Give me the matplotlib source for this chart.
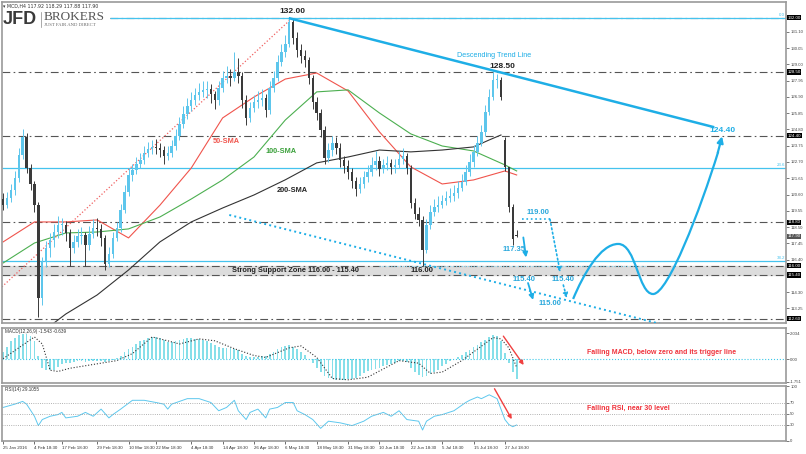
import numpy as np
import matplotlib.pyplot as plt
from matplotlib.path import Path
from matplotlib.patches import PathPatch
from matplotlib.lines import Line2D

plt.rcParams['font.family'] = ['Liberation Sans', 'DejaVu Sans']

# ---- price candles (H4 bars, index 0 = 25 Jan 2016) ----
opens = [120.30, 119.93, 120.38, 120.89, 121.67, 123.15, 124.31, 122.31, 121.28, 119.93,
         113.93, 116.25, 117.15, 117.67, 118.18, 118.64, 118.64, 118.12, 117.15, 117.54,
         117.93, 117.99, 117.35, 118.05, 118.44, 118.38, 117.80, 116.12, 116.76, 117.80,
         118.44, 119.60, 120.76, 121.86, 122.18, 122.57, 122.83, 123.28, 123.54, 123.67,
         123.60, 123.47, 123.09, 123.28, 123.73, 124.38, 125.15, 125.80, 126.31, 126.70,
         127.02, 127.22, 127.35, 127.41, 127.09, 126.70, 127.47, 128.12, 128.25, 128.12,
         128.51, 128.25, 126.70, 125.54, 126.18, 126.57, 126.70, 126.83, 126.05, 127.47,
         128.12, 129.15, 129.80, 130.31, 131.73, 130.70, 129.93, 129.54, 129.28, 128.12,
         126.57, 125.86, 124.76, 122.96, 123.47, 123.93, 123.60, 122.83, 122.44, 122.05,
         121.47, 120.96, 121.28, 121.73, 122.05, 122.51, 122.76, 122.25, 122.51, 122.64,
         122.38, 122.51, 122.89, 123.09, 122.31, 120.05, 119.35, 118.96, 117.02, 118.64,
         119.47, 119.80, 119.93, 120.18, 120.38, 120.51, 120.70, 121.02, 121.41, 122.05,
         122.70, 123.35, 123.93, 124.64, 125.93, 126.89, 127.99, 127.99, 124.10, 122.40,
         119.80, 117.92]
closes = [119.93, 120.38, 120.89, 121.67, 123.15, 124.31, 122.31, 121.28, 119.93, 113.93,
          116.25, 117.15, 117.67, 118.18, 118.64, 118.64, 118.12, 117.15, 117.54, 117.93,
          117.99, 117.35, 118.05, 118.44, 118.38, 117.80, 116.12, 116.76, 117.80, 118.44,
          119.60, 120.76, 121.86, 122.18, 122.57, 122.83, 123.28, 123.54, 123.67, 123.60,
          123.47, 123.09, 123.28, 123.73, 124.38, 125.15, 125.80, 126.31, 126.70, 127.02,
          127.22, 127.35, 127.41, 127.09, 126.70, 127.47, 128.12, 128.25, 128.12, 128.51,
          128.25, 126.70, 125.54, 126.18, 126.57, 126.70, 126.83, 126.05, 127.47, 128.12,
          129.15, 129.80, 130.31, 131.73, 130.70, 129.93, 129.54, 129.28, 128.12, 126.57,
          125.86, 124.76, 122.96, 123.47, 123.93, 123.60, 122.83, 122.44, 122.05, 121.47,
          120.96, 121.28, 121.73, 122.05, 122.51, 122.76, 122.25, 122.51, 122.64, 122.38,
          122.51, 122.89, 123.09, 122.31, 120.05, 119.35, 118.96, 117.02, 118.64, 119.47,
          119.80, 119.93, 120.18, 120.38, 120.51, 120.70, 121.02, 121.41, 122.05, 122.70,
          123.35, 123.93, 124.64, 125.93, 126.89, 127.99, 127.99, 126.90, 122.40, 119.80,
          117.70, 117.90]
highs = [120.70, 120.75, 121.30, 122.10, 123.60, 124.80, 124.60, 122.60, 121.50, 120.10,
         116.60, 117.60, 118.10, 118.70, 119.20, 119.10, 118.90, 118.40, 118.00, 118.40,
         118.50, 118.20, 118.60, 119.00, 119.10, 118.70, 118.00, 117.20, 118.20, 118.80,
         120.00, 121.20, 122.30, 122.60, 123.00, 123.30, 123.70, 124.00, 124.10, 124.20,
         123.90, 123.70, 123.70, 124.10, 124.80, 125.60, 126.30, 126.80, 127.20, 127.50,
         127.80, 127.90, 127.90, 127.70, 127.30, 127.90, 128.60, 128.90, 128.70, 129.80,
         129.40, 128.50, 127.00, 126.60, 127.00, 127.30, 127.40, 127.10, 127.90, 128.60,
         129.60, 130.30, 130.90, 132.00, 131.90, 131.10, 130.30, 129.90, 129.50, 128.30,
         126.90, 126.10, 125.00, 123.90, 124.40, 124.30, 123.90, 123.10, 122.80, 122.30,
         121.70, 121.70, 122.10, 122.50, 123.00, 123.40, 123.10, 122.90, 123.10, 122.90,
         122.90, 123.40, 123.60, 123.30, 122.50, 120.40, 119.80, 119.20, 119.00, 119.90,
         120.30, 120.50, 120.60, 120.80, 121.00, 121.20, 121.50, 121.90, 122.50, 123.20,
         123.80, 124.40, 125.10, 126.40, 127.40, 128.50, 128.40, 128.20, 124.30, 122.30,
         120.00, 118.29]
lows = [119.60, 119.70, 120.10, 120.60, 121.40, 122.90, 122.00, 120.90, 119.50, 112.70,
        113.50, 115.90, 116.60, 117.20, 117.80, 118.00, 117.60, 116.00, 116.80, 117.20,
        117.40, 116.00, 117.00, 117.80, 117.90, 117.30, 115.70, 115.90, 116.50, 117.60,
        118.20, 119.40, 120.50, 121.50, 121.90, 122.30, 122.60, 123.00, 123.20, 123.20,
        123.00, 122.60, 122.80, 123.00, 123.50, 124.10, 124.90, 125.50, 126.00, 126.40,
        126.70, 126.90, 126.80, 126.50, 126.10, 126.40, 127.20, 127.80, 127.60, 127.90,
        127.80, 126.20, 125.10, 125.30, 125.90, 126.20, 126.30, 125.60, 125.80, 127.20,
        127.90, 128.90, 129.50, 130.10, 130.30, 129.50, 129.10, 128.80, 127.70, 126.10,
        125.40, 124.30, 122.60, 122.70, 123.10, 123.20, 122.40, 122.00, 121.60, 121.00,
        120.50, 120.70, 121.00, 121.40, 121.80, 122.20, 121.80, 122.00, 122.20, 121.90,
        122.00, 122.30, 122.60, 121.90, 119.70, 119.00, 118.60, 116.00, 116.80, 118.40,
        119.20, 119.50, 119.70, 119.90, 120.10, 120.20, 120.40, 120.80, 121.20, 121.80,
        122.40, 123.10, 123.70, 124.40, 125.70, 126.70, 127.50, 126.70, 122.10, 119.50,
        117.35, 117.88]

# ---- moving averages (bar index, value) ----
sma_x = [0, 8, 16, 24, 32, 40, 48, 56, 64, 72, 80, 88, 96, 104, 112, 120, 128, 131]
sma50 = [117.54, 118.83, 118.83, 118.96, 117.80, 119.91, 122.31, 125.54, 126.89, 128.05,
         128.44, 127.28, 124.64, 122.38, 121.28, 121.54, 122.12, 121.86]
sma100 = [116.18, 117.47, 118.12, 118.18, 118.38, 119.15, 120.31, 121.54, 123.02, 125.41,
          127.22, 127.35, 125.86, 124.51, 123.73, 123.41, 122.51, 122.12]
sma200_x = [12, 16, 24, 32, 40, 48, 56, 64, 72, 80, 88, 96, 104, 112, 120, 124, 127]
sma200 = [112.12, 112.89, 114.12, 115.73, 117.54, 118.83, 119.73, 120.57, 121.55, 122.64,
          123.02, 123.47, 123.35, 123.47, 123.67, 124.12, 124.44]

# ---- MACD(12,26,9) ----
macd_hist = [0.6, 1.0, 1.4, 1.7, 1.9, 2.0, 2.0, 1.8, 1.4, 0.3,
             -0.7, -0.85, -0.85, -0.8, -0.6, -0.4, -0.3, -0.25, -0.2, -0.15,
             -0.15, -0.2, -0.15, -0.1, -0.1, -0.15, -0.2, -0.15, -0.05, 0.1,
             0.3, 0.55, 0.8, 1.0, 1.2, 1.4, 1.55, 1.7, 1.75, 1.75,
             1.65, 1.5, 1.35, 1.35, 1.45, 1.55, 1.6, 1.65, 1.65, 1.6,
             1.6, 1.55, 1.45, 1.25, 1.15, 1.0, 0.9, 0.85, 0.85, 0.8,
             0.7, 0.45, 0.25, 0.15, 0.15, 0.2, 0.25, 0.3, 0.45, 0.6,
             0.8, 0.95, 1.05, 1.1, 1.0, 0.8, 0.6, 0.35, 0.05, -0.3,
             -0.7, -1.0, -1.3, -1.45, -1.55, -1.6, -1.6, -1.6, -1.55, -1.5,
             -1.45, -1.3, -1.1, -0.95, -0.85, -0.75, -0.65, -0.55, -0.45, -0.35,
             -0.25, -0.15, -0.1, -0.2, -0.7, -1.0, -1.2, -1.4, -1.3, -1.15,
             -1.0, -0.8, -0.55, -0.35, -0.15, 0.0, 0.15, 0.35, 0.55, 0.75,
             0.95, 1.15, 1.35, 1.55, 1.75, 1.9, 1.85, 1.4, 0.5, -0.3,
             -1.0, -1.543]
sig_x = [0, 4, 8, 10, 12, 14, 17, 25, 29, 33, 38, 42, 45, 50, 54, 59, 64, 67, 73, 76,
         80, 84, 88, 93, 101, 106, 109, 112, 117, 121, 125, 127, 129, 131]
sig_v = [0.05, 0.9, 1.75, 1.2, -0.85, -0.95, -0.7, -0.3, -0.1, 0.45, 1.75, 1.45, 1.2, 1.6,
         1.45, 0.83, 0.3, 0.15, 0.9, 1.05, 0.15, -1.5, -1.6, -1.4, -0.1, -0.3, -1.1, -1.0,
         -0.1, 0.8, 1.7, 1.6, 0.9, -0.639]

# ---- RSI(14) ----
rsi_x = [0, 3, 5, 6, 8, 9, 10, 12, 14, 15, 16, 19, 21, 23, 25, 27, 28, 30, 33, 36,
         39, 41, 42, 43, 47, 50, 53, 55, 57, 59, 60, 62, 63, 65, 67, 68, 70, 72, 74, 75,
         77, 79, 81, 83, 86, 89, 92, 94, 97, 99, 101, 103, 106, 107, 108, 110, 112, 115, 118, 119,
         121, 122, 124, 126, 128, 129, 130, 131]
rsi_v = [61, 67, 72, 67, 45, 28, 39, 45, 48, 52, 42, 45, 52, 45, 58, 42, 48, 58, 74, 74,
         70, 67, 58, 67, 77, 77, 70, 55, 61, 74, 55, 39, 52, 58, 42, 58, 61, 70, 70, 55,
         48, 39, 23, 36, 33, 28, 36, 45, 52, 45, 55, 39, 36, 20, 36, 45, 48, 55, 70, 74,
         80, 77, 84, 77, 39, 30, 26, 29.1]

date_pos = [0, 8, 15, 24, 32, 39, 48, 56, 64, 72, 80, 88, 96, 104, 112, 120, 128]
date_lbl = ["25 Jan 2016", "4 Feb 18:30", "17 Feb 18:30", "29 Feb 18:30", "10 Mar 18:30",
            "22 Mar 18:30", "4 Apr 18:30", "14 Apr 18:30", "26 Apr 18:30", "6 May 18:30",
            "18 May 18:30", "31 May 18:30", "10 Jun 18:30", "22 Jun 18:30", "5 Jul 18:30",
            "15 Jul 18:30", "27 Jul 18:30"]

price_ticks = [113.25, 114.30, 116.40, 117.45, 118.50, 119.55, 120.60, 121.65, 122.70,
               123.75, 124.80, 125.85, 126.90, 127.95, 129.00, 130.05, 131.10]
key_levels = [132.00, 128.50, 124.40, 118.80, 116.00, 115.40, 112.60]
fib_levels = [132.00, 122.31, 116.31]
fib_names = ["0.0", "23.6", "38.2"]
last_price = 117.90

CYAN = '#1eaee6'
CUP = '#5dc6ec'
CDN = '#3a3a3a'
GRID = '#9a9a9a'
DASHDOT = (0, (7, 3, 1.5, 3))

W, H = 806, 454
fig = plt.figure(figsize=(8.06, 4.54), dpi=100)


def box(l, t, r, b):
    return [l / W, 1 - b / H, (r - l) / W, (b - t) / H]


ax = fig.add_axes(box(1.5, 2, 786, 323))
axm = fig.add_axes(box(1.5, 328, 786, 383), sharex=ax)
axr = fig.add_axes(box(1.5, 386, 786, 441), sharex=ax)

for a in (ax, axm, axr):
    for s in a.spines.values():
        s.set_color(GRID)
        s.set_linewidth(1.2)
    a.yaxis.tick_right()
    a.tick_params(axis='y', labelsize=3.1, colors='#444', length=2, width=0.5, pad=1)
    a.tick_params(axis='x', length=0)
    a.set_xlim(-0.4, 199.7)

# ---- main panel ----
x = np.arange(len(closes))
o = np.array(opens)
c = np.array(closes)
col = np.where(c >= o, CUP, CDN)
ax.vlines(x, lows, highs, colors=col, lw=0.7, zorder=3)
ax.bar(x, np.maximum(np.abs(c - o), 0.06), bottom=np.minimum(o, c), width=0.62,
       color=col, linewidth=0, zorder=3)

ax.plot(sma_x, sma50, color='#f0544c', lw=0.8, zorder=2)
ax.plot(sma_x, sma100, color='#4caf50', lw=0.8, zorder=2)
ax.plot(sma200_x, sma200, color='#333333', lw=0.8, zorder=2)

ax.axhspan(115.40, 116.00, color='#dcdcdc', zorder=0)
for lv in key_levels:
    x0 = 27.3 if lv == 132.00 else -0.4
    ax.hlines(lv, x0, 199.7, color='#555555', lw=0.8, linestyles=[DASHDOT], zorder=1)
for lv, nm in zip(fib_levels, fib_names):
    x0 = 27.3 if lv == 132.00 else -0.4
    ax.hlines(lv, x0, 199.7, color='#45c3ee', lw=0.9, zorder=1)
    ax.text(199.4, lv + 0.08, nm, color='#45c3ee', fontsize=3.2, ha='right', va='bottom')
ax.hlines(116.0, 96, 164, color='#8ad8f2', lw=0.8, linestyles=':', zorder=1)

ax.set_ylim(112.31, 133.02)
ax.set_yticks(price_ticks)
ax.yaxis.set_major_formatter(plt.FormatStrFormatter('%.2f'))
ax.tick_params(axis='x', labelbottom=False)

tr = ax.get_yaxis_transform()
for lv in key_levels:
    ax.text(1.002, lv, f'{lv:.2f}', transform=tr, fontsize=3.2, color='white', va='center',
            ha='left', bbox=dict(boxstyle='square,pad=0.15', fc='black', ec='none'), zorder=6)
ax.text(1.002, last_price, f'{last_price:.2f}', transform=tr, fontsize=3.2, color='white',
        va='center', ha='left', bbox=dict(boxstyle='square,pad=0.15', fc='#555555', ec='none'))

# trend lines
ax.plot([73.2, 181.1], [131.96, 124.96], color=CYAN, lw=1.8, zorder=4)
ax.plot([57.7, 170.0], [119.28, 112.1], color=CYAN, lw=1.4, ls=':', zorder=4)
ax.plot([-0.3, 73.2], [114.64, 131.86], color='#f06060', lw=0.9, ls=':', zorder=2)

# projected path
arw = dict(arrowstyle='-|>', color=CYAN, lw=1.3, mutation_scale=7, shrinkA=0, shrinkB=0)
ax.annotate('', xy=(133.4, 116.54), xytext=(132.7, 117.83), arrowprops=arw)
ax.annotate('', xy=(135.2, 113.80), xytext=(133.9, 114.89), arrowprops=arw)
ax.plot([132.4, 139.5], [119.0, 119.0], color=CYAN, lw=1.2, ls=':')
arwd = dict(arw, linestyle=':', lw=1.2)
ax.annotate('', xy=(142.1, 115.58), xytext=(139.5, 119.0), arrowprops=arwd)
ax.annotate('', xy=(143.8, 113.91), xytext=(142.9, 114.76), arrowprops=arwd)

verts = [(145.4, 113.86), (147.96, 115.41), (152.3, 117.41), (156.9, 117.41),
         (161.5, 117.41), (162.0, 114.18), (165.8, 114.18),
         (169.6, 114.18), (177.8, 119.60), (182.4, 123.35)]
codes = [Path.MOVETO] + [Path.CURVE4] * 9
ax.add_patch(PathPatch(Path(verts, codes), fc='none', ec=CYAN, lw=1.6, zorder=4))
ax.annotate('', xy=(183.4, 124.35), xytext=(182.3, 123.30),
            arrowprops=dict(arw, lw=1.6, mutation_scale=9))

# labels
lab = dict(ha='center', va='center', zorder=7)
ax.text(73.7, 132.38, '132.00', fontsize=6, fontweight='bold', color='#222', **lab)
ax.text(127.3, 128.83, '128.50', fontsize=6, fontweight='bold', color='#222', **lab)
ax.text(115.8, 129.56, 'Descending Trend Line', fontsize=5.2, color=CYAN, ha='left',
        va='center')
ax.text(183.4, 124.70, '124.40', fontsize=6, fontweight='bold', color=CYAN, **lab)
ax.text(56.9, 124.01, '50-SMA', fontsize=5.3, fontweight='bold', color='#f0544c', **lab)
ax.text(70.9, 123.35, '100-SMA', fontsize=5.3, fontweight='bold', color='#3aa03a', **lab)
ax.text(73.7, 120.83, '200-SMA', fontsize=5.3, fontweight='bold', color='#222', **lab)
ax.text(74.5, 115.70, 'Strong Support Zone 116.00 - 115.40', fontsize=5.3,
        fontweight='bold', color='#222', **lab)
ax.text(106.9, 115.72, '116.00', fontsize=5.5, fontweight='bold', color='#222', **lab)
for (lx, ly, t) in [(130.4, 117.02, '117.35'), (136.5, 119.41, '119.00'),
                    (132.9, 115.09, '115.40'), (142.9, 115.09, '115.40'),
                    (139.5, 113.60, '115.00')]:
    ax.text(lx, ly, t, fontsize=5.5, fontweight='bold', color='#2aa8dc', **lab)

# ---- MACD panel ----
axm.bar(np.arange(len(macd_hist)), macd_hist, width=0.45, color='#86dfe9', linewidth=0)
axm.plot(sig_x, sig_v, color='#333', lw=0.8, ls=':')
axm.axhline(0, color='#3cc8e8', lw=0.8, ls=':')
axm.set_ylim(-1.85, 2.45)
axm.set_yticks([2.034, 0.0, -1.751])
axm.set_yticklabels(['2.034', '0.00', '-1.751'])
axm.tick_params(axis='x', labelbottom=False)
axm.annotate('', xy=(133.2, -0.62), xytext=(127.2, 1.99),
             arrowprops=dict(arrowstyle='-|>', color='#f04040', lw=1.0, mutation_scale=6))
axm.text(149, 0.55, 'Falling MACD, below zero and its trigger line', fontsize=5.0,
         fontweight='bold', color='#f0333c', ha='left', va='center')
axm.text(0.4, 2.2, 'MACD(12,26,9) -1.543 -0.639', fontsize=3.3, color='#333', ha='left',
         va='center')

# ---- RSI panel ----
axr.plot(rsi_x, rsi_v, color='#5ec8ee', lw=0.7)
for lv in (70, 50, 30):
    axr.axhline(lv, color='#999', lw=0.6, ls=':')
axr.set_ylim(0, 100)
axr.set_yticks([100, 70, 50, 30, 0])
axr.annotate('', xy=(130.1, 35.3), xytext=(125.0, 99.4),
             arrowprops=dict(arrowstyle='-|>', color='#f04040', lw=1.0, mutation_scale=6))
axr.text(149, 59.8, 'Falling RSI, near 30 level', fontsize=5.0, fontweight='bold',
         color='#f0333c', ha='left', va='center')
axr.text(0.4, 93, 'RSI(14) 29.1055', fontsize=3.3, color='#333', ha='left', va='center')
axr.set_xticks(date_pos)
axr.set_xticklabels(date_lbl)
axr.tick_params(axis='x', labelsize=3.2, colors='#333', length=2, width=0.5, pad=1.5)
for t in axr.get_xticklabels():
    t.set_ha('left')

# ---- header and logo ----
fig.text(3 / W, 1 - 6 / H, '\u25be MCD,H4 117.92 118.29 117.88 117.90', fontsize=3.4,
         color='#333', ha='left', va='center', family=['DejaVu Sans'])
fig.text(3 / W, 1 - 20 / H, 'JFD', fontsize=13, fontweight='bold', family='Liberation Sans',
         color='#3a3a3a', ha='left', va='center')
fig.add_artist(Line2D([40.5 / W, 40.5 / W], [1 - 12 / H, 1 - 27 / H], color='#888', lw=0.5))
fig.text(44 / W, 1 - 17 / H, 'BROKERS', fontsize=9.5, family='Liberation Serif',
         color='#555', ha='left', va='center')
fig.text(44.5 / W, 1 - 25 / H, 'JUST FAIR AND DIRECT', fontsize=3.4,
         family='Liberation Serif', color='#666', ha='left', va='center')

fig.savefig('out.png', dpi=100)
